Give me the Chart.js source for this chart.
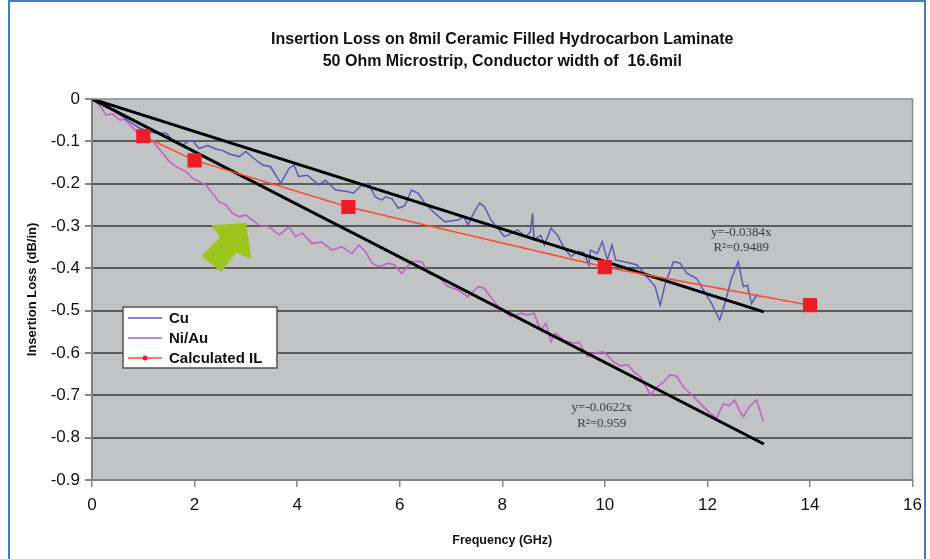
<!DOCTYPE html>
<html>
<head>
<meta charset="utf-8">
<script src="https://cdn.jsdelivr.net/npm/chart.js@4/dist/chart.umd.min.js"></script>
<style>
  html, body { margin: 0; padding: 0; background: #ffffff; }
  #wrap { width: 930px; height: 559px; position: relative; }
</style>
</head>
<body>
<div id="wrap"><canvas id="c" width="930" height="559"></canvas></div>
<script>
// ---------------- DATA ----------------
const chartTitle = ['Insertion Loss on 8mil Ceramic Filled Hydrocarbon Laminate', '50 Ohm Microstrip, Conductor width of  16.6mil'];
const xAxisTitle = 'Frequency (GHz)';
const yAxisTitle = 'Insertion Loss (dB/in)';
const seriesNames = ['Cu', 'Ni/Au', 'Calculated IL'];

const xTicks = [0, 2, 4, 6, 8, 10, 12, 14, 16];
const xTickLabels = ['0', '2', '4', '6', '8', '10', '12', '14', '16'];
const yTicks = [0, -0.1, -0.2, -0.3, -0.4, -0.5, -0.6, -0.7, -0.8, -0.9];
const yTickLabels = ['0', '-0.1', '-0.2', '-0.3', '-0.4', '-0.5', '-0.6', '-0.7', '-0.8', '-0.9'];

const cuFreq = [0.00,0.15,0.30,0.45,0.60,0.75,0.93,1.10,1.25,1.45,1.58,1.77,1.90,1.97,2.09,2.25,2.42,2.55,2.68,2.87,3.00,3.15,3.33,3.48,3.68,3.84,3.94,4.03,4.20,4.42,4.55,4.75,4.95,5.10,5.26,5.39,5.52,5.65,5.72,5.85,5.97,6.10,6.23,6.36,6.49,6.65,6.88,7.14,7.25,7.33,7.45,7.56,7.65,7.78,8.04,8.17,8.30,8.45,8.55,8.59,8.62,8.75,8.82,8.95,9.08,9.21,9.34,9.47,9.59,9.69,9.72,9.85,9.95,10.05,10.14,10.21,10.40,10.63,10.82,10.98,11.08,11.18,11.34,11.47,11.60,11.79,11.92,12.08,12.24,12.34,12.47,12.60,12.70,12.78,12.86,12.96,13.05];
const cuLoss = [0.000,-0.008,-0.018,-0.030,-0.042,-0.055,-0.069,-0.076,-0.081,-0.081,-0.100,-0.109,-0.098,-0.100,-0.117,-0.110,-0.118,-0.122,-0.130,-0.136,-0.124,-0.140,-0.156,-0.160,-0.199,-0.164,-0.156,-0.183,-0.180,-0.203,-0.192,-0.215,-0.218,-0.222,-0.203,-0.199,-0.231,-0.239,-0.231,-0.236,-0.258,-0.252,-0.215,-0.223,-0.246,-0.266,-0.290,-0.286,-0.278,-0.298,-0.268,-0.246,-0.254,-0.286,-0.325,-0.318,-0.309,-0.325,-0.314,-0.270,-0.333,-0.322,-0.345,-0.305,-0.322,-0.353,-0.372,-0.360,-0.363,-0.392,-0.357,-0.365,-0.337,-0.380,-0.345,-0.380,-0.385,-0.392,-0.420,-0.443,-0.487,-0.435,-0.384,-0.388,-0.412,-0.424,-0.451,-0.483,-0.522,-0.483,-0.424,-0.384,-0.443,-0.440,-0.483,-0.463,-0.467];

const niFreq = [0.00,0.10,0.19,0.28,0.40,0.54,0.64,0.74,0.87,1.00,1.16,1.25,1.35,1.51,1.64,1.84,1.96,2.09,2.22,2.35,2.48,2.61,2.74,2.87,3.00,3.13,3.26,3.45,3.65,3.84,3.97,4.10,4.29,4.48,4.68,4.87,5.07,5.20,5.33,5.46,5.59,5.78,5.90,6.04,6.23,6.43,6.56,6.75,6.94,7.14,7.33,7.53,7.65,7.82,7.98,8.17,8.37,8.50,8.62,8.75,8.85,8.95,9.04,9.20,9.40,9.50,9.66,9.80,9.98,10.17,10.30,10.45,10.56,10.69,10.89,11.02,11.15,11.27,11.40,11.53,11.66,11.86,12.05,12.18,12.31,12.42,12.53,12.62,12.70,12.83,12.96,13.09];
const niLoss = [0.000,-0.010,-0.022,-0.038,-0.035,-0.050,-0.048,-0.061,-0.077,-0.080,-0.097,-0.109,-0.124,-0.148,-0.160,-0.172,-0.187,-0.195,-0.203,-0.223,-0.243,-0.250,-0.270,-0.278,-0.274,-0.286,-0.298,-0.302,-0.321,-0.302,-0.325,-0.317,-0.341,-0.338,-0.357,-0.349,-0.365,-0.345,-0.360,-0.388,-0.396,-0.388,-0.392,-0.412,-0.384,-0.384,-0.412,-0.420,-0.443,-0.451,-0.467,-0.443,-0.447,-0.475,-0.498,-0.514,-0.506,-0.510,-0.506,-0.546,-0.530,-0.573,-0.553,-0.570,-0.577,-0.575,-0.609,-0.600,-0.597,-0.621,-0.630,-0.628,-0.644,-0.656,-0.699,-0.680,-0.668,-0.652,-0.655,-0.680,-0.695,-0.719,-0.742,-0.754,-0.719,-0.725,-0.711,-0.735,-0.750,-0.725,-0.711,-0.762];

const calcFreq = [1, 2, 5, 10, 14];
const calcIL = [-0.088, -0.145, -0.255, -0.397, -0.487];

const trendCuFreq = [0, 13.1];
const trendCuLoss = [0, -0.503];
const trendNiFreq = [0, 13.1];
const trendNiLoss = [0, -0.815];

const trendCuText = ['y=-0.0384x', 'R\u00B2=0.9489'];
const trendNiText = ['y=-0.0622x', 'R\u00B2=0.959'];

// ---------------- BUILD ----------------
const pts = (xs, ys) => xs.map((x, i) => ({ x: x, y: ys[i] }));

const BASE_FONT = "'Liberation Sans', Arial, sans-serif";

const bgPlugin = {
  id: 'bg',
  beforeDraw(chart) {
    const { ctx, chartArea: a } = chart;
    ctx.save();
    ctx.fillStyle = '#ffffff';
    ctx.fillRect(0, 0, chart.width, chart.height);
    ctx.fillStyle = '#c1c3c5';
    ctx.fillRect(a.left, a.top, a.right - a.left, a.bottom - a.top);
    ctx.restore();
  },
  afterDraw(chart) {
    const { ctx, chartArea: a } = chart;
    ctx.save();
    ctx.strokeStyle = '#8a8a8a';
    ctx.lineWidth = 1.5;
    ctx.beginPath();
    ctx.moveTo(a.left, a.top); ctx.lineTo(a.right, a.top); ctx.lineTo(a.right, a.bottom);
    ctx.stroke();
    ctx.strokeStyle = '#4a7db3';
    ctx.lineWidth = 2;
    ctx.strokeRect(9, 1, 916, 620);
    ctx.restore();
  }
};

const decoPlugin = {
  id: 'deco',
  afterDatasetsDraw(chart) {
    const { ctx } = chart;
    const xs = chart.scales.x, ys = chart.scales.y;
    const P = (x, y) => [xs.getPixelForValue(x), ys.getPixelForValue(y)];
    ctx.save();
    const arrow = [[3.006,-0.293],[3.103,-0.378],[2.812,-0.364],[2.521,-0.409],[2.133,-0.371],[2.502,-0.326],[2.327,-0.298]];
    ctx.fillStyle = '#9cc41d';
    ctx.beginPath();
    arrow.forEach((p, i) => { const q = P(p[0], p[1]); if (i === 0) ctx.moveTo(q[0], q[1]); else ctx.lineTo(q[0], q[1]); });
    ctx.closePath();
    ctx.fill();
    ctx.fillStyle = '#3a3a3a';
    ctx.font = "13px 'Liberation Serif', 'Times New Roman', serif";
    ctx.textAlign = 'center';
    ctx.textBaseline = 'middle';
    let q = P(12.66, -0.315); ctx.fillText(trendCuText[0], q[0], q[1]);
    q = P(12.66, -0.352); ctx.fillText(trendCuText[1], q[0], q[1]);
    q = P(9.94, -0.728); ctx.fillText(trendNiText[0], q[0], q[1]);
    q = P(9.94, -0.766); ctx.fillText(trendNiText[1], q[0], q[1]);
    ctx.restore();
  },
  afterDraw(chart) {
    const { ctx, chartArea: a } = chart;
    const ds = chart.data.datasets;
    const L = a.left + 31, T = a.top + 208, W = 154, H = 61;
    ctx.save();
    ctx.fillStyle = '#ffffff';
    ctx.fillRect(L, T, W, H);
    ctx.strokeStyle = '#555555';
    ctx.lineWidth = 1.5;
    ctx.strokeRect(L, T, W, H);
    ctx.font = "bold 15px " + BASE_FONT;
    ctx.textBaseline = 'middle';
    ctx.textAlign = 'left';
    for (let i = 0; i < 3; i++) {
      const y = T + 11 + i * 20;
      ctx.strokeStyle = ds[i].borderColor;
      ctx.lineWidth = 1.5;
      ctx.beginPath(); ctx.moveTo(L + 5, y); ctx.lineTo(L + 39, y); ctx.stroke();
      if (i === 2) {
        ctx.fillStyle = ds[i].pointBackgroundColor;
        ctx.beginPath(); ctx.arc(L + 22, y, 2.5, 0, Math.PI * 2); ctx.fill();
      }
      ctx.fillStyle = '#111111';
      ctx.fillText(ds[i].label, L + 46, y + 1);
    }
    ctx.restore();
  }
};

const cfg = {
  type: 'line',
  data: {
    datasets: [
      { label: seriesNames[0], data: pts(cuFreq, cuLoss), borderColor: '#5a5ab4', borderWidth: 1.5, pointRadius: 0, tension: 0, order: 4 },
      { label: seriesNames[1], data: pts(niFreq, niLoss), borderColor: '#c55cc5', borderWidth: 1.5, pointRadius: 0, tension: 0, order: 5 },
      { label: seriesNames[2], data: pts(calcFreq, calcIL), borderColor: '#ff4b2b', borderWidth: 1.5, pointStyle: 'rect', pointRadius: 10, pointBackgroundColor: '#ee1d25', pointBorderColor: '#ee1d25', pointBorderWidth: 0, tension: 0, order: 1 },
      { label: 'trendCu', data: pts(trendCuFreq, trendCuLoss), borderColor: '#000000', borderWidth: 3, pointRadius: 0, order: 2 },
      { label: 'trendNi', data: pts(trendNiFreq, trendNiLoss), borderColor: '#000000', borderWidth: 3, pointRadius: 0, order: 2 }
    ]
  },
  options: {
    responsive: false,
    animation: false,
    events: [],
    layout: { padding: { left: 0, right: 15, top: 0, bottom: 0 } },
    plugins: {
      legend: { display: false },
      tooltip: { enabled: false },
      title: {
        display: true,
        text: chartTitle,
        fullSize: false,
        color: '#111111',
        font: { family: BASE_FONT, size: 16, weight: 'bold', lineHeight: '22px' },
        padding: { top: 29, bottom: 26 }
      }
    },
    scales: {
      x: {
        type: 'linear',
        min: 0, max: 16,
        afterBuildTicks: s => { s.ticks = xTicks.map(v => ({ value: v })); },
        afterFit: s => { s.height = 79; },
        ticks: {
          callback: (v) => xTickLabels[xTicks.indexOf(v)],
          color: '#111111',
          font: { family: BASE_FONT, size: 17 },
          padding: 8,
          maxRotation: 0
        },
        grid: { drawOnChartArea: false, drawTicks: true, tickLength: 7, color: '#888888', lineWidth: 1.5 },
        border: { color: '#808080', width: 2 },
        title: { display: true, text: xAxisTitle, color: '#111111', font: { family: BASE_FONT, size: 12.5, weight: 'bold' }, padding: { top: 0, bottom: 11 } }
      },
      y: {
        type: 'linear',
        min: -0.9, max: 0,
        afterBuildTicks: s => { s.ticks = yTicks.slice().reverse().map(v => ({ value: v })); },
        afterFit: s => { s.width = 92; },
        ticks: {
          callback: (v) => { const i = yTicks.findIndex(t => Math.abs(t - v) < 1e-9); return yTickLabels[i]; },
          color: '#111111',
          font: { family: BASE_FONT, size: 17 },
          padding: 5
        },
        grid: {
          drawTicks: true,
          tickLength: 7,
          color: ctx => (ctx.tick && Math.abs(ctx.tick.value) < 1e-9) ? 'rgba(0,0,0,0)' : '#5c5c5c',
          tickColor: '#888888',
          lineWidth: 2
        },
        border: { color: '#808080', width: 2 },
        title: { display: true, text: yAxisTitle, color: '#111111', font: { family: BASE_FONT, size: 13, weight: 'bold' }, padding: { top: 25, bottom: 0 } }
      }
    }
  },
  plugins: [bgPlugin, decoPlugin]
};

new Chart(document.getElementById('c'), cfg);
</script>
</body>
</html>
